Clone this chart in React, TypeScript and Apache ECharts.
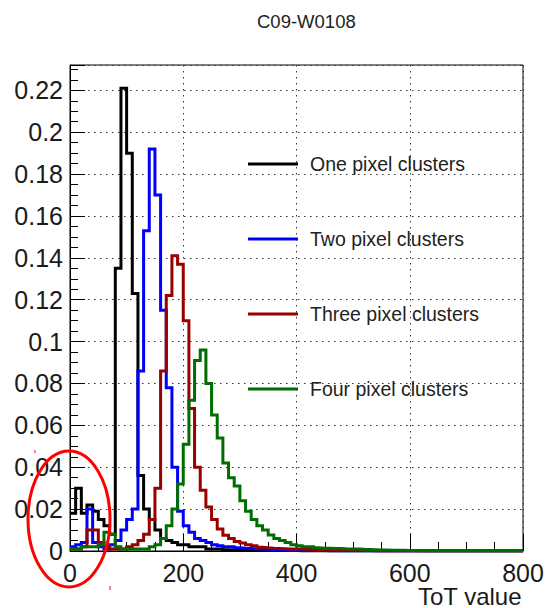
import React, { useEffect, useRef } from "react";
import * as echarts from "echarts";

// ---- data (histograms, bin width 10 ToT units, starting at 0) ----
const TITLE = "C09-W0108";
const X_NAME = "ToT value";
const BIN_WIDTH = 10;
const X_MAX = 800;
const Y_MAX = 0.2321; // 1.05 x highest bin, as ROOT does
const SERIES_NAMES = [
  "One pixel clusters",
  "Two pixel clusters",
  "Three pixel clusters",
  "Four pixel clusters",
];
const SERIES_COLORS = ["#000000", "#0000ff", "#990000", "#006d00"];

const onePixel = [
  0.018, 0.03, 0.018, 0.022, 0.019, 0.015, 0.012, 0.008, 0.135, 0.221,
  0.19, 0.123, 0.036, 0.02, 0.015, 0.01, 0.006, 0.005, 0.004, 0.003,
  0.003, 0.002, 0.002, 0.002, 0.001, 0.001, 0.001, 0.0006, 0.0005, 0.0004,
  0.0003, 0.0002, 0.0002, 0.0002, 0.0002, 0.0002, 0.0002, 0.0002, 0.0002, 0.0002,
  0, 0, 0, 0, 0, 0, 0, 0, 0, 0,
  0, 0, 0, 0, 0, 0, 0, 0, 0, 0,
  0, 0, 0, 0, 0, 0, 0, 0, 0, 0,
  0, 0, 0, 0, 0, 0, 0, 0, 0, 0,
];
const twoPixel = [
  0.002, 0.003, 0.004, 0.02, 0.004, 0.002, 0.001, 0.003, 0.005, 0.01,
  0.015, 0.02, 0.086, 0.153, 0.192, 0.17, 0.115, 0.078, 0.04, 0.019,
  0.012, 0.009, 0.006, 0.005, 0.004, 0.003, 0.0025, 0.002, 0.002, 0.0015,
  0.0013, 0.0012, 0.001, 0.001, 0.0008, 0.0006, 0.0005, 0.0004, 0.0002, 0.0002,
  0.0002, 0.0002, 0.0002, 0.0002, 0.0002, 0, 0, 0, 0, 0,
  0, 0, 0, 0, 0, 0, 0, 0, 0, 0,
  0, 0, 0, 0, 0, 0, 0, 0, 0, 0,
  0, 0, 0, 0, 0, 0, 0, 0, 0, 0,
];
const threePixel = [
  0.001, 0.001, 0.002, 0.01, 0.01, 0.004, 0.002, 0.001, 0.001, 0.001,
  0.002, 0.003, 0.005, 0.008, 0.015, 0.03, 0.086, 0.122, 0.141, 0.137,
  0.11, 0.068, 0.04, 0.029, 0.021, 0.015, 0.0105, 0.0075, 0.006, 0.0045,
  0.0038, 0.003, 0.0025, 0.0018, 0.0015, 0.0013, 0.0012, 0.0011, 0.001, 0.001,
  0.0009, 0.0008, 0.0007, 0.0006, 0.0006, 0.0005, 0.0004, 0.0004, 0.0003, 0.0003,
  0.0003, 0.0002, 0.0002, 0, 0, 0, 0, 0, 0, 0,
  0, 0, 0, 0, 0, 0, 0, 0, 0, 0,
  0, 0, 0, 0, 0, 0, 0, 0, 0, 0,
];
const fourPixel = [
  0.001, 0.001, 0.002, 0.002, 0.002, 0.003, 0.009, 0.008, 0.002, 0.001,
  0.001, 0.001, 0.001, 0.001, 0.002, 0.003, 0.006, 0.012, 0.02, 0.032,
  0.051, 0.072, 0.091, 0.096, 0.08, 0.065, 0.054, 0.042, 0.035, 0.031,
  0.024, 0.019, 0.015, 0.012, 0.01, 0.0076, 0.006, 0.005, 0.004, 0.003,
  0.0025, 0.002, 0.002, 0.0015, 0.0013, 0.0013, 0.0012, 0.0012, 0.001, 0.001,
  0.001, 0.0008, 0.0007, 0.0006, 0.0005, 0.0005, 0.0004, 0.0003, 0.0003, 0.0002,
  0.0002, 0, 0, 0, 0, 0, 0, 0, 0, 0,
  0, 0, 0, 0, 0, 0, 0, 0, 0, 0,
];
const SERIES_VALUES = [onePixel, twoPixel, threePixel, fourPixel];

const FONT = "'Liberation Sans', Arial, Helvetica, sans-serif";

function toSteps(values: number[]): number[][] {
  const pts = values.map((v, i) => [i * BIN_WIDTH, v]);
  pts.push([values.length * BIN_WIDTH, values[values.length - 1]]);
  return pts;
}

export default function App() {
  const ref = useRef<HTMLDivElement>(null);

  useEffect(() => {
    if (!ref.current) return;
    const chart = echarts.init(ref.current, null, { renderer: "svg" });

    const series = SERIES_NAMES.map((name, k) => ({
      type: "line",
      name,
      data: toSteps(SERIES_VALUES[k]),
      step: "end",
      symbol: "none",
      showSymbol: false,
      color: SERIES_COLORS[k],
      lineStyle: { color: SERIES_COLORS[k], width: 3, join: "miter" },
      itemStyle: { color: SERIES_COLORS[k] },
      z: 3 + k,
      silent: true,
    }));

    const option: any = {
      animation: false,
      backgroundColor: "#ffffff",
      title: {
        text: TITLE,
        left: 257,
        top: 12,
        padding: 0,
        textStyle: {
          fontFamily: FONT,
          fontSize: 18.5,
          fontWeight: "normal",
          color: "#222",
        },
      },
      legend: {
        data: SERIES_NAMES,
        orient: "vertical",
        left: 248,
        top: 154,
        padding: 0,
        itemWidth: 50,
        itemHeight: 3,
        itemGap: 55,
        icon: "rect",
        selectedMode: false,
        textStyle: {
          fontFamily: FONT,
          fontSize: 19.5,
          color: "#222",
          lineHeight: 20,
          padding: [0, 0, 0, 7],
        },
      },
      grid: {
        left: 70,
        right: 23,
        top: 65,
        bottom: 57,
        show: true,
        borderColor: "#000",
        borderWidth: 1,
        backgroundColor: "transparent",
        containLabel: false,
        outerBoundsMode: "none",
      },
      xAxis: {
        type: "value",
        min: 0,
        max: X_MAX,
        interval: 200,
        axisLine: { show: true, lineStyle: { color: "#000", width: 1 } },
        axisTick: { show: true, inside: true, length: 17, lineStyle: { color: "#000", width: 1 } },
        minorTick: { show: true, splitNumber: 4, length: 9, lineStyle: { color: "#000", width: 1 } },
        splitLine: { show: true, lineStyle: { color: "#333", type: [1.5, 4.5], width: 1 } },
        minorSplitLine: { show: false },
        axisLabel: {
          fontFamily: FONT,
          fontSize: 25,
          lineHeight: 20,
          color: "#1a1a1a",
          margin: 12,
          showMinLabel: true,
          showMaxLabel: true,
        },
      },
      yAxis: {
        type: "value",
        min: 0,
        max: Y_MAX,
        interval: 0.02,
        axisLine: { show: true, lineStyle: { color: "#000", width: 1 } },
        axisTick: { show: true, inside: true, length: 15, lineStyle: { color: "#000", width: 1 } },
        minorTick: { show: true, splitNumber: 4, length: 8, lineStyle: { color: "#000", width: 1 } },
        splitLine: { show: true, lineStyle: { color: "#333", type: [1.5, 4.5], width: 1 } },
        minorSplitLine: { show: false },
        axisLabel: {
          fontFamily: FONT,
          fontSize: 25,
          color: "#1a1a1a",
          margin: 7,
          showMinLabel: true,
          showMaxLabel: false,
        },
      },
      graphic: [
        {
          type: "text",
          right: 24,
          top: 584,
          z: 10,
          style: {
            text: X_NAME,
            fontFamily: FONT,
            fontSize: 24,
            lineHeight: 20,
            fill: "#1a1a1a",
          },
        },
        {
          type: "ellipse",
          z: 100,
          shape: { cx: 69, cy: 519, rx: 41, ry: 68 },
          style: { fill: "none", stroke: "#ff0000", lineWidth: 3 },
        },
        {
          type: "line",
          z: 100,
          shape: { x1: 110, y1: 586, x2: 110, y2: 590 },
          style: { stroke: "#ff0000", lineWidth: 1 },
        },
        {
          type: "line",
          z: 100,
          shape: { x1: 35, y1: 450, x2: 35, y2: 453 },
          style: { stroke: "#ff0000", lineWidth: 1 },
        },
      ],
      series,
    };

    chart.setOption(option);
    return () => {
      chart.dispose();
    };
  }, []);

  return (
    <div
      ref={ref}
      style={{ position: "fixed", left: 0, top: 0, width: 546, height: 608 }}
    />
  );
}
